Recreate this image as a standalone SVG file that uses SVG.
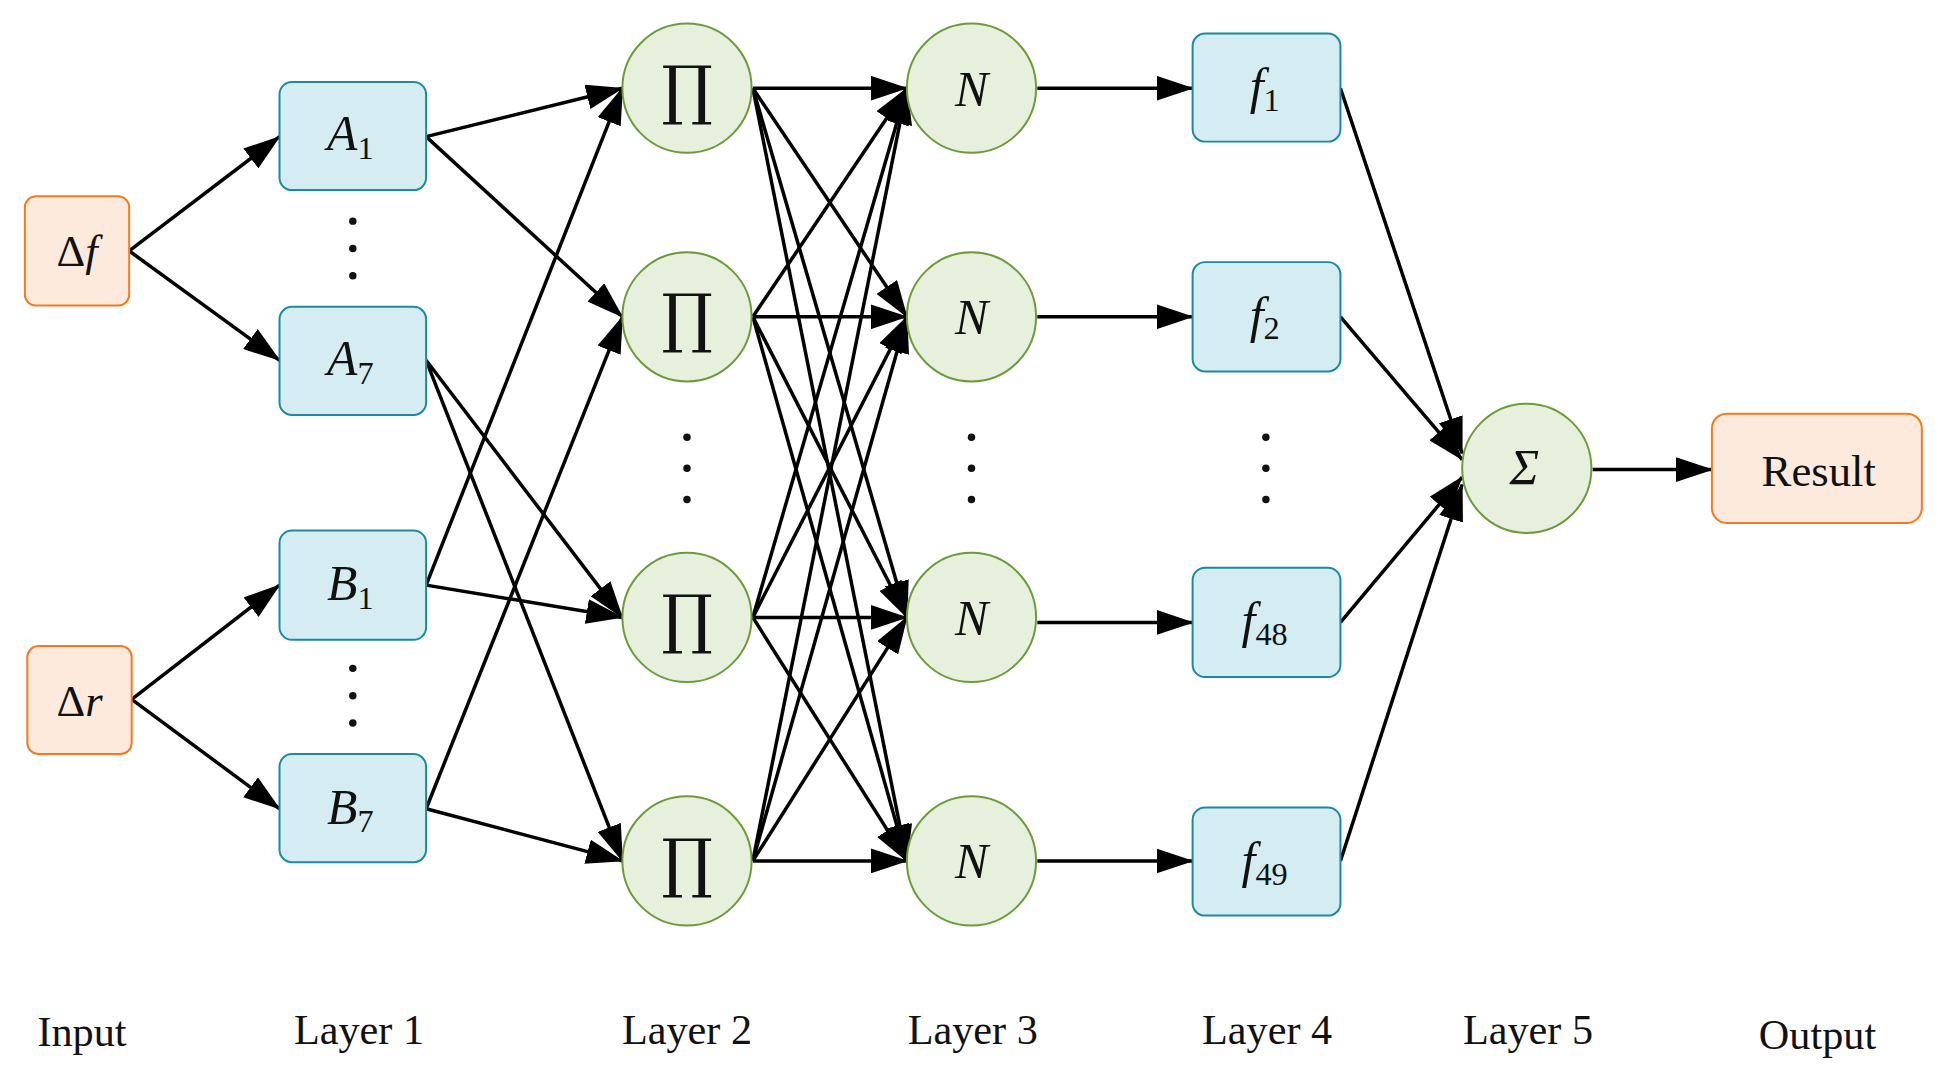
<svg xmlns="http://www.w3.org/2000/svg" width="1938" height="1081" viewBox="0 0 1938 1081">
<style>
.io{fill:#fdeadd;stroke:#f47a1f;stroke-width:1.6}
.bx{fill:#d5edf2;stroke:#1a8aa0;stroke-width:1.6}
.ci{fill:#e6f0dc;stroke:#6f9a3c;stroke-width:1.6}
.t{font-family:"Liberation Serif",serif;font-size:36px;fill:#111;text-anchor:middle}
.m{font-family:"Liberation Serif",serif;font-size:40px;font-style:italic;fill:#111;text-anchor:middle}
.p{font-family:"DejaVu Serif",serif;font-size:52px;fill:#111;text-anchor:middle}
.s{font-size:26px;font-style:normal}
.lb{font-family:"Liberation Serif",serif;font-size:34px;fill:#111;text-anchor:middle}
.e{stroke:#000;stroke-width:2.8;fill:none;marker-end:url(#ah)}
.d{fill:#111}
</style>
<defs>
<marker id="ah" markerUnits="userSpaceOnUse" markerWidth="30" markerHeight="20" viewBox="0 0 30 20" refX="29" refY="10" orient="auto">
<path d="M0,0 L30,10 L0,20 Z" fill="#000"/>
</marker>
</defs>
<rect width="1938" height="1081" fill="#fff"/>
<g transform="scale(1.2423)">
<g id="connectors">
<line class="e" x1="104" y1="202" x2="225" y2="110"/>
<line class="e" x1="104" y1="202" x2="225" y2="290"/>
<line class="e" x1="106" y1="563" x2="225" y2="471"/>
<line class="e" x1="106" y1="563" x2="225" y2="651"/>
<line class="e" x1="343" y1="110" x2="501" y2="71"/>
<line class="e" x1="343" y1="110" x2="501" y2="255"/>
<line class="e" x1="343" y1="290" x2="501" y2="497"/>
<line class="e" x1="343" y1="290" x2="501" y2="693"/>
<line class="e" x1="343" y1="471" x2="501" y2="71"/>
<line class="e" x1="343" y1="471" x2="501" y2="497"/>
<line class="e" x1="343" y1="651" x2="501" y2="255"/>
<line class="e" x1="343" y1="651" x2="501" y2="693"/>
<line class="e" x1="606" y1="71" x2="730" y2="71"/>
<line class="e" x1="606" y1="71" x2="730" y2="255"/>
<line class="e" x1="606" y1="71" x2="730" y2="497"/>
<line class="e" x1="606" y1="71" x2="730" y2="693"/>
<line class="e" x1="606" y1="255" x2="730" y2="71"/>
<line class="e" x1="606" y1="255" x2="730" y2="255"/>
<line class="e" x1="606" y1="255" x2="730" y2="497"/>
<line class="e" x1="606" y1="255" x2="730" y2="693"/>
<line class="e" x1="606" y1="497" x2="730" y2="71"/>
<line class="e" x1="606" y1="497" x2="730" y2="255"/>
<line class="e" x1="606" y1="497" x2="730" y2="497"/>
<line class="e" x1="606" y1="497" x2="730" y2="693"/>
<line class="e" x1="606" y1="693" x2="730" y2="71"/>
<line class="e" x1="606" y1="693" x2="730" y2="255"/>
<line class="e" x1="606" y1="693" x2="730" y2="497"/>
<line class="e" x1="606" y1="693" x2="730" y2="693"/>
<line class="e" x1="835" y1="71" x2="960" y2="71"/>
<line class="e" x1="835" y1="255" x2="960" y2="255"/>
<line class="e" x1="835" y1="501" x2="960" y2="501"/>
<line class="e" x1="835" y1="693" x2="960" y2="693"/>
<line class="e" x1="1079" y1="71" x2="1177" y2="365"/>
<line class="e" x1="1079" y1="255" x2="1177" y2="370"/>
<line class="e" x1="1079" y1="501" x2="1177" y2="384"/>
<line class="e" x1="1079" y1="693" x2="1177" y2="390"/>
<line class="e" x1="1282" y1="378" x2="1378" y2="378"/>
</g>
<g id="in-df"><rect class="io" x="20" y="158" width="84" height="88" rx="9"/><text class="t" x="62" y="214" font-size="38">Δ<tspan font-style="italic">f</tspan></text></g>
<g id="in-dr"><rect class="io" x="22" y="520" width="84" height="87" rx="9"/><text class="t" x="64" y="576" font-size="38">Δ<tspan font-style="italic">r</tspan></text></g>
<g id="A1"><rect class="bx" x="225" y="66" width="118" height="87" rx="10"/><text class="m" x="282" y="121">A<tspan class="s" dy="7">1</tspan></text></g>
<g id="A7"><rect class="bx" x="225" y="247" width="118" height="87" rx="10"/><text class="m" x="282" y="302">A<tspan class="s" dy="7">7</tspan></text></g>
<g id="B1"><rect class="bx" x="225" y="427" width="118" height="88" rx="10"/><text class="m" x="282" y="483">B<tspan class="s" dy="7">1</tspan></text></g>
<g id="B7"><rect class="bx" x="225" y="607" width="118" height="87" rx="10"/><text class="m" x="282" y="663">B<tspan class="s" dy="7">7</tspan></text></g>
<g id="dots1"><circle class="d" cx="284" cy="178" r="3"/><circle class="d" cx="284" cy="200" r="3"/><circle class="d" cx="284" cy="222" r="3"/><circle class="d" cx="284" cy="538" r="3"/><circle class="d" cx="284" cy="560" r="3"/><circle class="d" cx="284" cy="582" r="3"/></g>
<g id="P1"><ellipse class="ci" cx="553" cy="71" rx="52" ry="52"/><text class="p" x="553" y="90">∏</text></g>
<g id="P2"><ellipse class="ci" cx="553" cy="255" rx="52" ry="52"/><text class="p" x="553" y="274">∏</text></g>
<g id="P3"><ellipse class="ci" cx="553" cy="497" rx="52" ry="52"/><text class="p" x="553" y="516">∏</text></g>
<g id="P4"><ellipse class="ci" cx="553" cy="693" rx="52" ry="52"/><text class="p" x="553" y="712">∏</text></g>
<g id="dots2"><circle class="d" cx="553" cy="352" r="3"/><circle class="d" cx="553" cy="377" r="3"/><circle class="d" cx="553" cy="402" r="3"/></g>
<g id="N1"><circle class="ci" cx="782" cy="71" r="52"/><text class="m" x="782" y="85">N</text></g>
<g id="N2"><circle class="ci" cx="782" cy="255" r="52"/><text class="m" x="782" y="269">N</text></g>
<g id="N3"><circle class="ci" cx="782" cy="497" r="52"/><text class="m" x="782" y="511">N</text></g>
<g id="N4"><circle class="ci" cx="782" cy="693" r="52"/><text class="m" x="782" y="707">N</text></g>
<g id="dots3"><circle class="d" cx="782" cy="352" r="3"/><circle class="d" cx="782" cy="377" r="3"/><circle class="d" cx="782" cy="402" r="3"/></g>
<g id="f1"><rect class="bx" x="960" y="27" width="119" height="87" rx="10"/><text class="m" x="1018" y="83">f<tspan class="s" dy="6">1</tspan></text></g>
<g id="f2"><rect class="bx" x="960" y="211" width="119" height="88" rx="10"/><text class="m" x="1018" y="267">f<tspan class="s" dy="6">2</tspan></text></g>
<g id="f48"><rect class="bx" x="960" y="457" width="119" height="88" rx="10"/><text class="m" x="1018" y="513">f<tspan class="s" dy="6">48</tspan></text></g>
<g id="f49"><rect class="bx" x="960" y="650" width="119" height="87" rx="10"/><text class="m" x="1018" y="706">f<tspan class="s" dy="6">49</tspan></text></g>
<g id="dots4"><circle class="d" cx="1019" cy="352" r="3"/><circle class="d" cx="1019" cy="377" r="3"/><circle class="d" cx="1019" cy="402" r="3"/></g>
<g id="sum"><circle class="ci" cx="1229" cy="377" r="52"/><text class="m" x="1227" y="390">Σ</text></g>
<g id="result"><rect class="io" x="1378" y="333" width="169" height="88" rx="12"/><text class="t" x="1464" y="391">Result</text></g>
<g id="labels">
<text class="lb" x="66" y="842">Input</text>
<text class="lb" x="289" y="840">Layer 1</text>
<text class="lb" x="553" y="840">Layer 2</text>
<text class="lb" x="783" y="840">Layer 3</text>
<text class="lb" x="1020" y="840">Layer 4</text>
<text class="lb" x="1230" y="840">Layer 5</text>
<text class="lb" x="1463" y="844">Output</text>
</g>
</g>
</svg>
